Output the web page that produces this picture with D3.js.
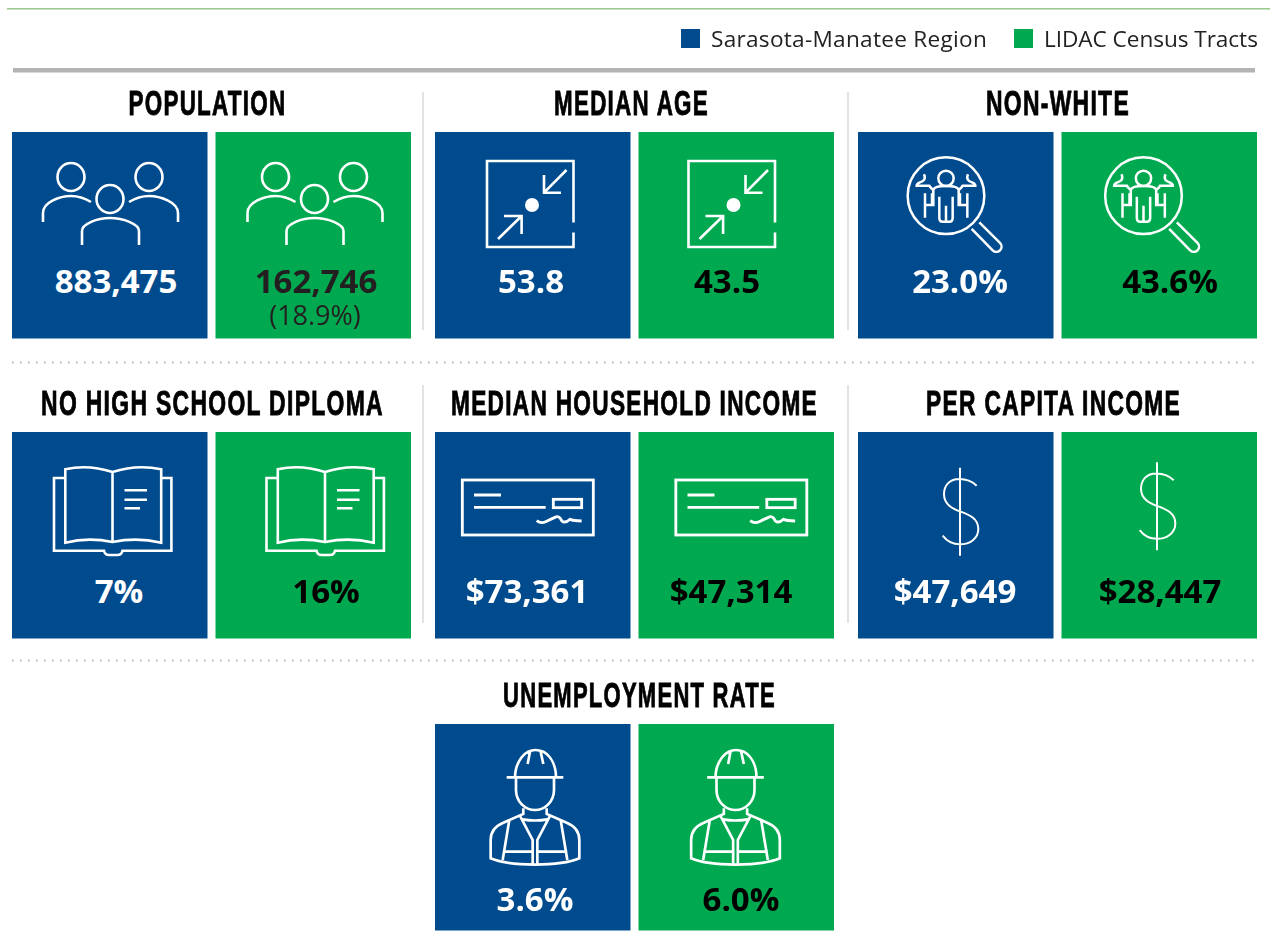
<!DOCTYPE html>
<html><head><meta charset="utf-8">
<script src="https://d3js.org/d3.v7.min.js"></script>
<style>html,body{margin:0;padding:0;background:#fff;overflow:hidden}svg{display:block;filter:blur(0.35px)}</style>
</head><body><div id="chart"></div>
<script>
// ---- data ----
const categories = ["POPULATION","MEDIAN AGE","NON-WHITE","NO HIGH SCHOOL DIPLOMA","MEDIAN HOUSEHOLD INCOME","PER CAPITA INCOME","UNEMPLOYMENT RATE"];
const regionValues = ["883,475","53.8","23.0%","7%","$73,361","$47,649","3.6%"];
const lidacValues = ["162,746","43.5","43.6%","16%","$47,314","$28,447","6.0%"];
const lidacNotes = ["(18.9%)","","","","","",""];
const iconNames = ["people","age","search","book","cheque","dollar","worker"];
const seriesNames = ["Sarasota-Manatee Region","LIDAC Census Tracts"];
const seriesKeys = ["region","lidac"];

// ---- layout (not data) ----
const W = 1270, H = 936;
const rowOf = [0,0,0,1,1,1,2], colOf = [0,1,2,0,1,2,1];
const titleCentre = [207.5,631.5,1058,212.5,634.5,1053.5,639.5];
const titleWidth  = [158,155,144,343,367,255,273];
const valueCentre = [[116,316],[531,727],[960,1170],[119,326],[527,731],[955,1160],[535,741]];
const iconShift   = [[0,1],[1,-1],[0,-6],[0,9],[1,11],[0,-6.5],[1,-2]];
const iconLift    = [0,0,0,0,0,-5.5,0];
const legendSpacing = [0.28,-0.05];

const svg = d3.select("#chart").append("svg").attr("width",W).attr("height",H);
const colour = d3.scaleOrdinal(seriesKeys,["#004b8d","#00a94f"]);
const valueInk = d3.scaleOrdinal(seriesKeys,["#ffffff","#000000"]);
const groupX = d3.scaleBand().domain([0,1,2]).range([12,1257]).paddingInner(24/423);
const tileX = d3.scaleBand().domain(seriesKeys).range([0,groupX.bandwidth()]).paddingInner(8/203.5);
const rowY = d3.scaleOrdinal([0,1,2],[132,432,724]);
const tileH = 206.5;

// top rule, legend, gray rule
svg.append("rect").attr("x",7).attr("y",8).attr("width",W-7).attr("height",1.6).attr("fill","#9cc98f");
svg.append("rect").attr("x",13).attr("y",68).attr("width",1242).attr("height",4.5).attr("fill","#b4b4b4");
const legendX = d3.scaleOrdinal(seriesKeys,[681,1014]);
const legend = svg.selectAll("g.leg").data(seriesKeys).join("g").attr("class","leg").attr("transform",d=>`translate(${legendX(d)},29)`);
legend.append("rect").attr("width",19).attr("height",19).attr("fill",colour);
legend.append("text").attr("x",30).attr("y",18).attr("font-family","'Open Sans',sans-serif").attr("font-size",22.6)
  .attr("letter-spacing",(d,i)=>legendSpacing[i]).attr("fill","#222").text((d,i)=>seriesNames[i]);

// separators
[[423,92,330],[848,92,330],[423,385,623],[848,385,623]].forEach(s=>
  svg.append("line").attr("x1",s[0]).attr("x2",s[0]).attr("y1",s[1]).attr("y2",s[2]).attr("stroke","#dcdcdc").attr("stroke-width",1.6));
[362.5,660.5].forEach(y=>
  svg.append("line").attr("x1",12).attr("x2",1257).attr("y1",y).attr("y2",y).attr("stroke","#b5b5b5").attr("stroke-width",2).attr("stroke-dasharray","1.6 6.4"));

// icons: each draws white outline shapes into a group placed relative to the tile
const icons = {
  people(g){
    [[59,45],[137,45],[98,67]].forEach(c=>g.append("ellipse").attr("cx",c[0]).attr("cy",c[1]).attr("rx",13.5).attr("ry",14));
    g.append("path").attr("d","M31,90V81C31,70 48,64 59,64C68,64 74,67 79,70M117,70C122,67 128,64 137,64C148,64 166,70 166,81V90M70,113V99C70,92 85,86 98,86C111,86 127,92 127,99V113");
  },
  age(g){
    g.append("path").attr("d","M137.5,90.5V29H51V115H137.5V100.5M130.5,38L108,60.7M108,43V60.7H125M62,107L85.6,84M85.6,102V84H68");
    g.append("circle").attr("cx",96).attr("cy",73).attr("r",7).attr("fill","#fff").attr("stroke","none");
  },
  search(g){
    const s=g.append("g").attr("transform","translate(42,23) scale(0.3333)").attr("stroke-width",7.5);
    s.append("circle").attr("cx",138).attr("cy",122).attr("r",115);
    s.append("circle").attr("cx",138).attr("cy",70).attr("r",23);
    s.append("path").attr("d","M215,222L278,286A14,14 0 0 0 300,264L238,202");
    s.append("path").attr("d","M72,58C78,72 72,78 60,82C52,85 50,88 50,92H88C92,100 96,100 100,106V150H75M75,115V188M96,115V150M118,150V188Q118,200 128,200H148Q158,200 158,188V150M138,152V198M100,106C100,97 118,93 138,93C158,93 176,97 176,106V150H202M202,115V188M180,115V150M176,106C180,100 184,100 188,92H226C226,88 224,85 216,82C204,78 198,72 204,58M118,150V125M158,150V125");
  },
  book(g){
    g.append("path").attr("d","M53.3,46H42V118.7H92Q93,123 97,123H105.5Q109.5,123 110.5,118.7H159.4V46H149M53.3,110.7V37.3Q76,32 100.5,40Q125,32 149.2,37.3V110.7Q125,105 100.5,110Q76,105 53.3,110.7ZM100.5,40V110M112.5,58.3H135M112.5,67.7H135M112.5,76.3H128");
  },
  cheque(g){
    const s=g.append("g").attr("transform","translate(19,38) scale(0.3333)").attr("stroke-width",8.5);
    s.append("rect").attr("x",22).attr("y",30).attr("width",393).attr("height",165);
    s.append("rect").attr("x",295).attr("y",88).attr("width",85).attr("height",25);
    s.append("path").attr("d","M57,75H138M57,112H272");
    s.append("path").attr("d","M245,152Q258,162 272,155T300,142Q312,135 320,152Q330,162 345,148Q355,152 380,153");
  },
  dollar(g){
    const s=g.append("g").attr("transform","translate(72,23) scale(0.3333)").attr("stroke-width",6);
    s.append("path").attr("d","M90,38V302M140,92C125,78 105,72 88,72C60,72 42,90 42,118C42,150 70,162 92,170C120,180 145,192 145,222C145,250 120,268 90,268C70,268 50,258 38,242");
  },
  worker(g){
    const s=g.append("g").attr("transform","translate(44,16) scale(0.3333)").attr("stroke-width",8);
    s.append("path").attr("d","M80,112H250M105,112C105,75 125,45 145,35Q165,25 190,35C215,50 228,80 228,112M150,35L143,72M182,35L190,72M108,112V150C108,185 135,210 165,210C195,210 222,185 222,150V112");
    s.append("path").attr("d","M130,205V222L70,248C45,258 32,275 32,300V355C90,380 240,380 298,355V300C298,275 285,258 260,248L200,222V205M88,240L68,360M242,240L262,360M120,228L158,300V370M210,228L172,300V370M128,238Q165,245 202,238M70,335H158M172,335H262");
  }
};

// titles: the heavy condensed look comes from squeezing a bold face to the measured width
const panel = d3.range(categories.length);
svg.selectAll("text.title").data(panel).join("text").attr("class","title")
  .attr("text-anchor","middle").attr("font-family","'Liberation Sans',sans-serif")
  .attr("font-weight",700).attr("font-size",35).attr("fill","#000").attr("stroke","#000").attr("stroke-width",0.9)
  .attr("letter-spacing",2).text(i=>categories[i])
  .attr("transform",function(i){
    const sx = titleWidth[i]/this.getComputedTextLength();
    return `translate(${titleCentre[i]},${rowY(rowOf[i])-17.5}) scale(${sx},1)`;
  });

panel.forEach(i=>{
  seriesKeys.forEach((key,k)=>{
    const x = groupX(colOf[i])+tileX(key), y = rowY(rowOf[i]);
    const g = svg.append("g").attr("transform",`translate(${x},${y})`);
    g.append("rect").attr("width",tileX.bandwidth()).attr("height",tileH).attr("fill",colour(key));
    const ic = g.append("g").attr("fill","none").attr("stroke","#fff").attr("stroke-width",2.6)
      .attr("transform",`translate(${iconShift[i][k]},${k?iconLift[i]:0})`);
    icons[iconNames[i]](ic);
    const vals = k?lidacValues:regionValues;
    const note = k?lidacNotes[i]:"";
    const cx = valueCentre[i][k]-x;
    const base = rowOf[i]===0?161:rowOf[i]===1?171:187;
    g.append("text").attr("x",cx).attr("y",base).attr("text-anchor","middle")
      .attr("font-family","'Open Sans',sans-serif").attr("font-weight",700).attr("font-size",33)
      .attr("fill",note?"#231f20":valueInk(key)).text(vals[i]);
    if(note) g.append("text").attr("x",cx-1).attr("y",193).attr("text-anchor","middle")
      .attr("font-family","'Open Sans',sans-serif").attr("font-size",27).attr("fill","#231f20").text(note);
  });
});
</script></body></html>
